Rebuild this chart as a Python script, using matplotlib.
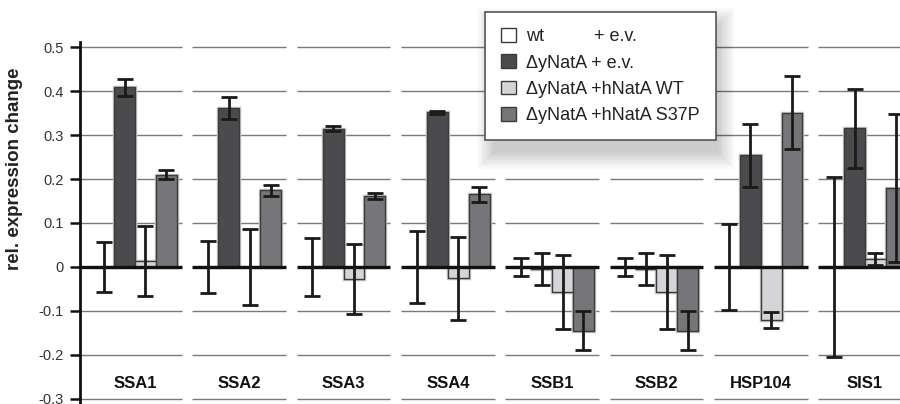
import matplotlib
matplotlib.use("Agg")
import matplotlib.pyplot as plt
from matplotlib.patches import Rectangle
import numpy as np

plt.rcParams['font.family'] = ['Liberation Sans', 'DejaVu Sans']

categories = ['SSA1', 'SSA2', 'SSA3', 'SSA4', 'SSB1', 'SSB2', 'HSP104', 'SIS1']
series_labels = ['wt          + e.v.', '\u0394yNatA + e.v.',
                 '\u0394yNatA +hNatA WT', '\u0394yNatA +hNatA S37P']

wt_ev = [0.0, 0.0, 0.0, 0.0, 0.0, 0.0, 0.0, 0.0]
wt_ev_err = [0.057, 0.059, 0.065, 0.081, 0.020, 0.020, 0.097, 0.205]
dy_ev = [0.408, 0.361, 0.314, 0.352, -0.005, -0.005, 0.254, 0.315]
dy_ev_err = [0.019, 0.025, 0.0055, 0.0035, 0.037, 0.037, 0.0715, 0.090]
dy_hwt = [0.013, 0.0, -0.027, -0.026, -0.057, -0.057, -0.120, 0.018]
dy_hwt_err = [0.080, 0.086, 0.080, 0.094, 0.085, 0.085, 0.018, 0.0145]
dy_s37p = [0.210, 0.175, 0.161, 0.165, -0.145, -0.145, 0.351, 0.180]
dy_s37p_err = [0.0105, 0.0125, 0.0075, 0.0175, 0.044, 0.044, 0.082, 0.168]

yticks = [0.5, 0.4, 0.3, 0.2, 0.1, 0.0, -0.1, -0.2, -0.3]
ytick_labels = ['0.5', '0.4', '0.3', '0.2', '0.1', '0', '-0.1', '-0.2', '-0.3']

values = [wt_ev, dy_ev, dy_hwt, dy_s37p]
errors = [wt_ev_err, dy_ev_err, dy_hwt_err, dy_s37p_err]
colors = ['#ffffff', '#4b4b4d', '#d5d5d7', '#767679']
offsets = [-0.3, -0.1, 0.1, 0.3]
bar_w = 0.2

fig = plt.figure(figsize=(9, 4.04), dpi=100)
ax = fig.add_axes([80 / 900, 0, 820 / 900, 362 / 404])
ax.set_xlim(-0.527, 7.335)
ax.set_ylim(-0.3114, 0.5114)

x = np.arange(len(categories))

handles = []
for vals, errs, col, off, lab in zip(values, errors, colors, offsets, series_labels):
    # light halo
    ax.bar(x + off, vals, width=bar_w, color='none', edgecolor='#c8c8c8',
           linewidth=2.5, zorder=1.5)
    b = ax.bar(x + off, vals, width=bar_w, color=col, edgecolor='#3a3a3a',
               linewidth=1.0, zorder=2, label=lab)
    handles.append(b)

# per-panel gridlines
half = 0.45
xl = ax.get_xlim()
for i in range(len(categories)):
    xmin = xl[0] if i == 0 else i - half
    xmax = i + half
    for yv in yticks:
        if yv == 0:
            ax.hlines(yv, xmin, xmax, color='#111111', linewidth=2.4, zorder=3)
        else:
            ax.hlines(yv, xmin, xmax, color='#7a7a7a', linewidth=1.0, zorder=0.5)

for vals, errs, off in zip(values, errors, offsets):
    ax.errorbar(x + off, vals, yerr=errs, fmt='none', ecolor='#1a1a1a',
                elinewidth=2.0, capsize=5.5, capthick=2.0, zorder=4)

for i, c in enumerate(categories):
    ax.text(i, -0.264, c, ha='center', va='center', fontsize=12,
            fontweight='bold', color='#111111', zorder=5)

for s in ['top', 'right', 'bottom']:
    ax.spines[s].set_visible(False)
ax.spines['left'].set_linewidth(2.0)
ax.spines['left'].set_color('#111111')
ax.set_xticks([])
ax.set_yticks(yticks)
ax.set_yticklabels(ytick_labels)
ax.tick_params(axis='y', direction='out', length=7, width=1.8, pad=4.5,
               labelsize=10.5, labelcolor='#333333', color='#111111')

fig.text(15 / 900, 1 - 169 / 404, 'rel. expression change', rotation=90,
         ha='center', va='center', fontsize=13.5, fontweight='bold',
         color='#222222')

# legend shadow (soft)
lx0, ly0, lw_, lh_ = 485, 12, 226, 129
for k in range(10, 0, -1):
    pad = k * 1.8
    r = Rectangle(((lx0 + 10 - pad) / 900, 1 - (ly0 + lh_ + 10 + pad) / 404),
                  (lw_ - 4 + 2 * pad) / 900, (lh_ - 4 + 2 * pad) / 404,
                  transform=fig.transFigure, facecolor='#000000',
                  alpha=0.018, edgecolor='none', zorder=4)
    fig.patches.append(r)

leg = fig.legend(handles=handles, labels=series_labels, loc='upper left',
                 bbox_to_anchor=(lx0 / 900, 1 - ly0 / 404),
                 bbox_transform=fig.transFigure, fontsize=13,
                 frameon=True, fancybox=False, borderaxespad=0,
                 handlelength=0.8, handleheight=0.8, handletextpad=0.55,
                 labelspacing=0.5, borderpad=0.9)
leg.get_frame().set_edgecolor('#555555')
leg.get_frame().set_linewidth(1.2)
leg.get_frame().set_facecolor('#ffffff')
leg.get_frame().set_alpha(1)
leg.set_zorder(6)
for t in leg.get_texts():
    t.set_color('#222222')

fig.savefig('out.png', dpi=100)
